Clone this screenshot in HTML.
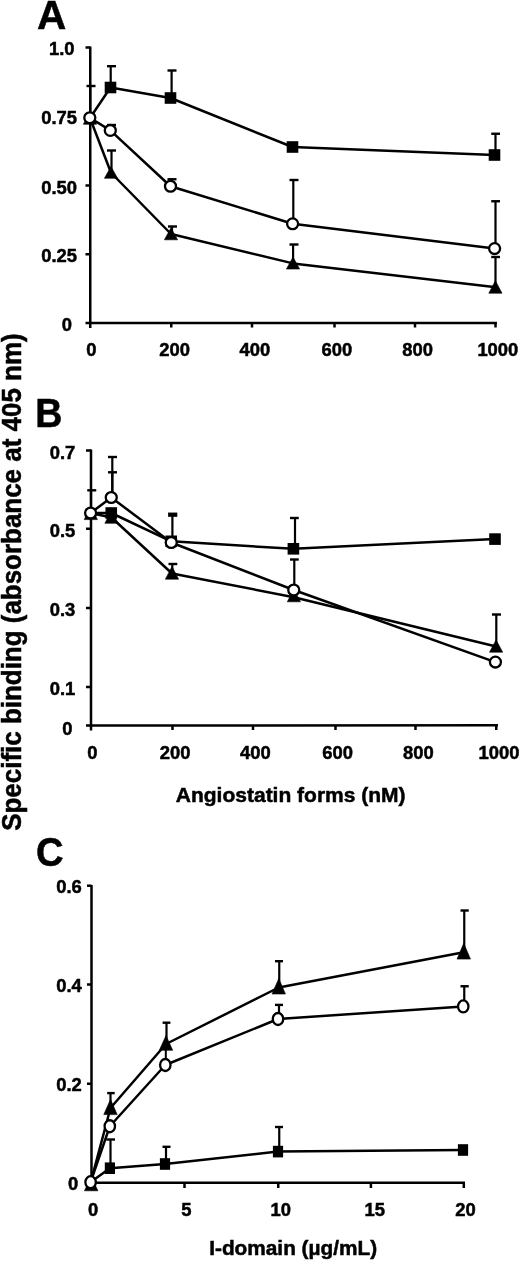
<!DOCTYPE html>
<html><head><meta charset="utf-8"><title>Figure</title>
<style>
html,body{margin:0;padding:0;background:#fff;}
svg{display:block;}
text{font-family:"Liberation Sans",sans-serif;font-weight:bold;fill:#000;stroke:#000;stroke-width:0.5px;}
</style></head>
<body>
<svg width="520" height="1261" viewBox="0 0 520 1261">
<rect width="520" height="1261" fill="#fff"/>
<line x1="90.25" y1="46.5" x2="90.25" y2="328" stroke="#000" stroke-width="2.5" stroke-linecap="butt"/>
<line x1="85.5" y1="323" x2="497" y2="323" stroke="#000" stroke-width="2.5" stroke-linecap="butt"/>
<line x1="85.5" y1="47.5" x2="90.25" y2="47.5" stroke="#000" stroke-width="2.5" stroke-linecap="butt"/>
<line x1="85.5" y1="116.5" x2="90.25" y2="116.5" stroke="#000" stroke-width="2.5" stroke-linecap="butt"/>
<line x1="85.5" y1="185.5" x2="90.25" y2="185.5" stroke="#000" stroke-width="2.5" stroke-linecap="butt"/>
<line x1="85.5" y1="254.25" x2="90.25" y2="254.25" stroke="#000" stroke-width="2.5" stroke-linecap="butt"/>
<line x1="171.25" y1="323" x2="171.25" y2="327.5" stroke="#000" stroke-width="2.5" stroke-linecap="butt"/>
<line x1="252" y1="323" x2="252" y2="327.5" stroke="#000" stroke-width="2.5" stroke-linecap="butt"/>
<line x1="334.5" y1="323" x2="334.5" y2="327.5" stroke="#000" stroke-width="2.5" stroke-linecap="butt"/>
<line x1="415" y1="323" x2="415" y2="327.5" stroke="#000" stroke-width="2.5" stroke-linecap="butt"/>
<line x1="495.5" y1="323" x2="495.5" y2="327.5" stroke="#000" stroke-width="2.5" stroke-linecap="butt"/>
<polyline points="90,118 110.5,87.5 170.5,98 292.5,147 494.5,155" fill="none" stroke="#000" stroke-width="2.5" stroke-linejoin="round"/>
<polyline points="89.8,117.7 110.3,130.4 170.5,186.25 292.6,223.8 494.6,248.6" fill="none" stroke="#000" stroke-width="2.5" stroke-linejoin="round"/>
<polyline points="90,118 111,172.75 171,234 293,263.4 496,287.25" fill="none" stroke="#000" stroke-width="2.5" stroke-linejoin="round"/>
<line x1="110.7" y1="87" x2="110.7" y2="66.2" stroke="#000" stroke-width="2.2" stroke-linecap="butt"/>
<line x1="107" y1="66.2" x2="116" y2="66.2" stroke="#000" stroke-width="2.4" stroke-linecap="butt"/>
<line x1="171.6" y1="98" x2="171.6" y2="70.5" stroke="#000" stroke-width="2.2" stroke-linecap="butt"/>
<line x1="167.5" y1="70.5" x2="176.5" y2="70.5" stroke="#000" stroke-width="2.4" stroke-linecap="butt"/>
<line x1="495.5" y1="155" x2="495.5" y2="133.75" stroke="#000" stroke-width="2.2" stroke-linecap="butt"/>
<line x1="491.25" y1="133.75" x2="500" y2="133.75" stroke="#000" stroke-width="2.4" stroke-linecap="butt"/>
<line x1="90.25" y1="118" x2="90.25" y2="86" stroke="#000" stroke-width="2.2" stroke-linecap="butt"/>
<line x1="86.5" y1="86" x2="95.5" y2="86" stroke="#000" stroke-width="2.4" stroke-linecap="butt"/>
<line x1="111" y1="130" x2="111" y2="125" stroke="#000" stroke-width="2.2" stroke-linecap="butt"/>
<line x1="107" y1="125" x2="116" y2="125" stroke="#000" stroke-width="2.4" stroke-linecap="butt"/>
<line x1="172" y1="186" x2="172" y2="179.25" stroke="#000" stroke-width="2.2" stroke-linecap="butt"/>
<line x1="167.5" y1="179.25" x2="176.5" y2="179.25" stroke="#000" stroke-width="2.4" stroke-linecap="butt"/>
<line x1="293.3" y1="223" x2="293.3" y2="180" stroke="#000" stroke-width="2.2" stroke-linecap="butt"/>
<line x1="289.5" y1="180" x2="298.5" y2="180" stroke="#000" stroke-width="2.4" stroke-linecap="butt"/>
<line x1="495.5" y1="248" x2="495.5" y2="201.25" stroke="#000" stroke-width="2.2" stroke-linecap="butt"/>
<line x1="491.25" y1="201.25" x2="500" y2="201.25" stroke="#000" stroke-width="2.4" stroke-linecap="butt"/>
<line x1="111.5" y1="172" x2="111.5" y2="150.5" stroke="#000" stroke-width="2.2" stroke-linecap="butt"/>
<line x1="107" y1="150.5" x2="116" y2="150.5" stroke="#000" stroke-width="2.4" stroke-linecap="butt"/>
<line x1="172" y1="234" x2="172" y2="226.5" stroke="#000" stroke-width="2.2" stroke-linecap="butt"/>
<line x1="168" y1="226.5" x2="177" y2="226.5" stroke="#000" stroke-width="2.4" stroke-linecap="butt"/>
<line x1="293.1" y1="263" x2="293.1" y2="244.5" stroke="#000" stroke-width="2.2" stroke-linecap="butt"/>
<line x1="289.5" y1="244.5" x2="298.5" y2="244.5" stroke="#000" stroke-width="2.4" stroke-linecap="butt"/>
<line x1="495.5" y1="287" x2="495.5" y2="257" stroke="#000" stroke-width="2.2" stroke-linecap="butt"/>
<line x1="491.25" y1="257" x2="500" y2="257" stroke="#000" stroke-width="2.4" stroke-linecap="butt"/>
<rect x="104.7" y="81.7" width="11.6" height="11.6" fill="#000"/>
<rect x="164.7" y="92.2" width="11.6" height="11.6" fill="#000"/>
<rect x="286.7" y="141.2" width="11.6" height="11.6" fill="#000"/>
<rect x="488.7" y="149.2" width="11.6" height="11.6" fill="#000"/>
<polygon points="90,111.1 83.4,124.3 96.6,124.3" fill="#000" stroke="#000" stroke-width="0.6" stroke-linejoin="round"/>
<polygon points="111,166.6 104.4,178.3 117.6,178.3" fill="#000" stroke="#000" stroke-width="0.6" stroke-linejoin="round"/>
<polygon points="171,227.85 164.4,239.8 177.6,239.8" fill="#000" stroke="#000" stroke-width="0.6" stroke-linejoin="round"/>
<polygon points="293,257.1 286.4,269.05 299.6,269.05" fill="#000" stroke="#000" stroke-width="0.6" stroke-linejoin="round"/>
<polygon points="495.4,280.70000000000005 488.79999999999995,293.2 502.0,293.2" fill="#000" stroke="#000" stroke-width="0.6" stroke-linejoin="round"/>
<ellipse cx="89.8" cy="117.7" rx="5.5" ry="5.4" fill="#fff" stroke="#000" stroke-width="2.3"/>
<ellipse cx="110.3" cy="130.4" rx="5.5" ry="5.4" fill="#fff" stroke="#000" stroke-width="2.3"/>
<ellipse cx="170.5" cy="186.25" rx="5.5" ry="5.4" fill="#fff" stroke="#000" stroke-width="2.3"/>
<ellipse cx="292.6" cy="223.8" rx="5.5" ry="5.4" fill="#fff" stroke="#000" stroke-width="2.3"/>
<ellipse cx="494.6" cy="248.6" rx="5.5" ry="5.4" fill="#fff" stroke="#000" stroke-width="2.3"/>
<text x="37" y="29" font-size="40.5" text-anchor="start" >A</text>
<text x="49" y="55" font-size="18.4" text-anchor="start" >1.0</text>
<text x="41.2" y="123.6" font-size="18.4" text-anchor="start" >0.75</text>
<text x="41.2" y="193.7" font-size="18.4" text-anchor="start" >0.50</text>
<text x="41.2" y="262" font-size="18.4" text-anchor="start" >0.25</text>
<text x="61.8" y="331.2" font-size="18.4" text-anchor="start" >0</text>
<text x="86.3" y="355.5" font-size="18.4" text-anchor="start" >0</text>
<text x="159.3" y="355.5" font-size="18.4" text-anchor="start" >200</text>
<text x="239.6" y="355.5" font-size="18.4" text-anchor="start" >400</text>
<text x="321.5" y="355.5" font-size="18.4" text-anchor="start" >600</text>
<text x="402.3" y="355.5" font-size="18.4" text-anchor="start" >800</text>
<text x="477.4" y="355.5" font-size="18.4" text-anchor="start" >1000</text>
<line x1="91" y1="449.5" x2="91" y2="730.5" stroke="#000" stroke-width="2.5" stroke-linecap="butt"/>
<line x1="86" y1="725.5" x2="498" y2="725.2" stroke="#000" stroke-width="2.5" stroke-linecap="butt"/>
<line x1="86" y1="450.5" x2="91" y2="450.5" stroke="#000" stroke-width="2.5" stroke-linecap="butt"/>
<line x1="86" y1="528.75" x2="91" y2="528.75" stroke="#000" stroke-width="2.5" stroke-linecap="butt"/>
<line x1="86" y1="608" x2="91" y2="608" stroke="#000" stroke-width="2.5" stroke-linecap="butt"/>
<line x1="86" y1="687" x2="91" y2="687" stroke="#000" stroke-width="2.5" stroke-linecap="butt"/>
<line x1="172.5" y1="725.3" x2="172.5" y2="730" stroke="#000" stroke-width="2.5" stroke-linecap="butt"/>
<line x1="253" y1="725.3" x2="253" y2="730" stroke="#000" stroke-width="2.5" stroke-linecap="butt"/>
<line x1="335.5" y1="725.3" x2="335.5" y2="730" stroke="#000" stroke-width="2.5" stroke-linecap="butt"/>
<line x1="415.5" y1="725.3" x2="415.5" y2="730" stroke="#000" stroke-width="2.5" stroke-linecap="butt"/>
<line x1="496.25" y1="725.3" x2="496.25" y2="730" stroke="#000" stroke-width="2.5" stroke-linecap="butt"/>
<polyline points="90.6,513 111.25,513 171.25,541.3 293.4,548.8 495,539.1" fill="none" stroke="#000" stroke-width="2.5" stroke-linejoin="round"/>
<polyline points="90.6,513 111.25,497.5 171.25,542.5 293.75,590 495.4,662.1" fill="none" stroke="#000" stroke-width="2.5" stroke-linejoin="round"/>
<polyline points="90.6,513 111.5,517.5 172,573.5 293.8,597.2 496.1,646.5" fill="none" stroke="#000" stroke-width="2.5" stroke-linejoin="round"/>
<line x1="91" y1="513" x2="91" y2="490.3" stroke="#000" stroke-width="2.2" stroke-linecap="butt"/>
<line x1="87.25" y1="490.3" x2="96.25" y2="490.3" stroke="#000" stroke-width="2.4" stroke-linecap="butt"/>
<line x1="112.3" y1="497" x2="112.3" y2="457" stroke="#000" stroke-width="2.2" stroke-linecap="butt"/>
<line x1="108" y1="457" x2="117" y2="457" stroke="#000" stroke-width="2.4" stroke-linecap="butt"/>
<line x1="112.3" y1="497" x2="112.3" y2="472.3" stroke="#000" stroke-width="2.2" stroke-linecap="butt"/>
<line x1="108" y1="472.3" x2="117" y2="472.3" stroke="#000" stroke-width="2.4" stroke-linecap="butt"/>
<line x1="172.4" y1="542" x2="172.4" y2="514.7" stroke="#000" stroke-width="2.2" stroke-linecap="butt"/>
<line x1="168.1" y1="514.7" x2="177.3" y2="514.7" stroke="#000" stroke-width="4.3" stroke-linecap="butt"/>
<line x1="172.3" y1="573" x2="172.3" y2="564" stroke="#000" stroke-width="2.2" stroke-linecap="butt"/>
<line x1="168.5" y1="564" x2="177.3" y2="564" stroke="#000" stroke-width="2.4" stroke-linecap="butt"/>
<line x1="295" y1="548" x2="295" y2="518" stroke="#000" stroke-width="2.2" stroke-linecap="butt"/>
<line x1="290" y1="518" x2="298.75" y2="518" stroke="#000" stroke-width="2.4" stroke-linecap="butt"/>
<line x1="294.3" y1="589" x2="294.3" y2="559.5" stroke="#000" stroke-width="2.2" stroke-linecap="butt"/>
<line x1="290" y1="559.5" x2="298.75" y2="559.5" stroke="#000" stroke-width="2.4" stroke-linecap="butt"/>
<line x1="496.3" y1="646" x2="496.3" y2="614.5" stroke="#000" stroke-width="2.2" stroke-linecap="butt"/>
<line x1="492" y1="614.5" x2="501" y2="614.5" stroke="#000" stroke-width="2.4" stroke-linecap="butt"/>
<rect x="105.45" y="507.2" width="11.6" height="11.6" fill="#000"/>
<rect x="165.45" y="535.5" width="11.6" height="11.6" fill="#000"/>
<rect x="287.59999999999997" y="543.0" width="11.6" height="11.6" fill="#000"/>
<rect x="489.2" y="533.3000000000001" width="11.6" height="11.6" fill="#000"/>
<polygon points="90.8,506.6 84.2,519.5999999999999 97.39999999999999,519.5999999999999" fill="#000" stroke="#000" stroke-width="0.6" stroke-linejoin="round"/>
<polygon points="111.5,510.6 104.9,523.3 118.1,523.3" fill="#000" stroke="#000" stroke-width="0.6" stroke-linejoin="round"/>
<polygon points="172,566.4 165.4,579.1999999999999 178.6,579.1999999999999" fill="#000" stroke="#000" stroke-width="0.6" stroke-linejoin="round"/>
<polygon points="293.9,589.4 287.29999999999995,601.8 300.5,601.8" fill="#000" stroke="#000" stroke-width="0.6" stroke-linejoin="round"/>
<polygon points="496.1,639.9 489.5,652.1999999999999 502.70000000000005,652.1999999999999" fill="#000" stroke="#000" stroke-width="0.6" stroke-linejoin="round"/>
<ellipse cx="90.6" cy="513" rx="5.5" ry="5.4" fill="#fff" stroke="#000" stroke-width="2.3"/>
<ellipse cx="111.25" cy="497.5" rx="5.5" ry="5.4" fill="#fff" stroke="#000" stroke-width="2.3"/>
<ellipse cx="171.25" cy="542.5" rx="5.5" ry="5.4" fill="#fff" stroke="#000" stroke-width="2.3"/>
<ellipse cx="293.75" cy="590" rx="5.5" ry="5.4" fill="#fff" stroke="#000" stroke-width="2.3"/>
<ellipse cx="495.4" cy="662.1" rx="5.5" ry="5.4" fill="#fff" stroke="#000" stroke-width="2.3"/>
<text x="35.3" y="427" font-size="40.5" text-anchor="start" textLength="27.2" lengthAdjust="spacingAndGlyphs">B</text>
<text x="49.7" y="458.6" font-size="18.4" text-anchor="start" >0.7</text>
<text x="49.7" y="537" font-size="18.4" text-anchor="start" >0.5</text>
<text x="49.7" y="616.2" font-size="18.4" text-anchor="start" >0.3</text>
<text x="49.7" y="695.4" font-size="18.4" text-anchor="start" >0.1</text>
<text x="62.3" y="735" font-size="18.4" text-anchor="start" >0</text>
<text x="87.3" y="758.8" font-size="18.4" text-anchor="start" >0</text>
<text x="159.8" y="758.8" font-size="18.4" text-anchor="start" >200</text>
<text x="240.1" y="758.8" font-size="18.4" text-anchor="start" >400</text>
<text x="322.3" y="758.8" font-size="18.4" text-anchor="start" >600</text>
<text x="403" y="758.8" font-size="18.4" text-anchor="start" >800</text>
<text x="478.5" y="758.8" font-size="18.4" text-anchor="start" >1000</text>
<text x="175.8" y="802" font-size="21" text-anchor="start" >Angiostatin forms (nM)</text>
<line x1="91.5" y1="885" x2="91.5" y2="1188" stroke="#000" stroke-width="2.5" stroke-linecap="butt"/>
<line x1="87" y1="1182.7" x2="465" y2="1182.7" stroke="#000" stroke-width="2.5" stroke-linecap="butt"/>
<line x1="87" y1="885.7" x2="91.5" y2="885.7" stroke="#000" stroke-width="2.5" stroke-linecap="butt"/>
<line x1="87" y1="984.5" x2="91.5" y2="984.5" stroke="#000" stroke-width="2.5" stroke-linecap="butt"/>
<line x1="87" y1="1083.75" x2="91.5" y2="1083.75" stroke="#000" stroke-width="2.5" stroke-linecap="butt"/>
<line x1="184.5" y1="1182.7" x2="184.5" y2="1188" stroke="#000" stroke-width="2.5" stroke-linecap="butt"/>
<line x1="278.25" y1="1182.7" x2="278.25" y2="1188" stroke="#000" stroke-width="2.5" stroke-linecap="butt"/>
<line x1="370.9" y1="1182.7" x2="370.9" y2="1188" stroke="#000" stroke-width="2.5" stroke-linecap="butt"/>
<line x1="463.8" y1="1182.7" x2="463.8" y2="1188" stroke="#000" stroke-width="2.5" stroke-linecap="butt"/>
<polyline points="90.75,1182 109.9,1168.2 165,1164 278,1151.6 463,1150" fill="none" stroke="#000" stroke-width="2.5" stroke-linejoin="round"/>
<polyline points="90.6,1182.2 109.8,1126.25 165.3,1065 278,1019 463.25,1006.4" fill="none" stroke="#000" stroke-width="2.5" stroke-linejoin="round"/>
<polyline points="90.75,1182 110.5,1108 166,1044 278.75,987.5 463.75,952.3" fill="none" stroke="#000" stroke-width="2.5" stroke-linejoin="round"/>
<line x1="110.5" y1="1168" x2="110.5" y2="1139.5" stroke="#000" stroke-width="2.2" stroke-linecap="butt"/>
<line x1="106.25" y1="1139.5" x2="115" y2="1139.5" stroke="#000" stroke-width="2.4" stroke-linecap="butt"/>
<line x1="166" y1="1163" x2="166" y2="1146.8" stroke="#000" stroke-width="2.2" stroke-linecap="butt"/>
<line x1="162.5" y1="1146.8" x2="170.5" y2="1146.8" stroke="#000" stroke-width="2.4" stroke-linecap="butt"/>
<line x1="279.25" y1="1152" x2="279.25" y2="1127" stroke="#000" stroke-width="2.2" stroke-linecap="butt"/>
<line x1="275" y1="1127" x2="283" y2="1127" stroke="#000" stroke-width="2.4" stroke-linecap="butt"/>
<line x1="110.5" y1="1108" x2="110.5" y2="1093.1" stroke="#000" stroke-width="2.2" stroke-linecap="butt"/>
<line x1="107.2" y1="1093.1" x2="114.7" y2="1093.1" stroke="#000" stroke-width="2.4" stroke-linecap="butt"/>
<line x1="166.5" y1="1044" x2="166.5" y2="1022.7" stroke="#000" stroke-width="2.2" stroke-linecap="butt"/>
<line x1="162.6" y1="1022.7" x2="170.4" y2="1022.7" stroke="#000" stroke-width="2.4" stroke-linecap="butt"/>
<line x1="165.8" y1="1049" x2="165.8" y2="1060" stroke="#000" stroke-width="2.0" stroke-linecap="butt"/>
<line x1="279.25" y1="988" x2="279.25" y2="961.2" stroke="#000" stroke-width="2.2" stroke-linecap="butt"/>
<line x1="275" y1="961.2" x2="283" y2="961.2" stroke="#000" stroke-width="2.4" stroke-linecap="butt"/>
<line x1="464.25" y1="952" x2="464.25" y2="910.5" stroke="#000" stroke-width="2.2" stroke-linecap="butt"/>
<line x1="460.5" y1="910.5" x2="468.75" y2="910.5" stroke="#000" stroke-width="2.4" stroke-linecap="butt"/>
<line x1="279" y1="1018" x2="279" y2="1004.9" stroke="#000" stroke-width="2.2" stroke-linecap="butt"/>
<line x1="275" y1="1004.9" x2="283" y2="1004.9" stroke="#000" stroke-width="2.4" stroke-linecap="butt"/>
<line x1="464.25" y1="1006" x2="464.25" y2="986.25" stroke="#000" stroke-width="2.2" stroke-linecap="butt"/>
<line x1="460.5" y1="986.25" x2="468.75" y2="986.25" stroke="#000" stroke-width="2.4" stroke-linecap="butt"/>
<rect x="104.80000000000001" y="1162.4" width="10.2" height="11.6" fill="#000"/>
<rect x="159.9" y="1158.2" width="10.2" height="11.6" fill="#000"/>
<rect x="272.9" y="1145.8" width="10.2" height="11.6" fill="#000"/>
<rect x="457.9" y="1144.2" width="10.2" height="11.6" fill="#000"/>
<polygon points="91.2,1177 84.45,1190.8 97.95,1190.8" fill="#000" stroke="#000" stroke-width="0.6" stroke-linejoin="round"/>
<polygon points="110.5,1099.3 103.8,1114.6 117.2,1114.6" fill="#000" stroke="#000" stroke-width="0.6" stroke-linejoin="round"/>
<polygon points="166,1035.5 159.3,1050.3 172.7,1050.3" fill="#000" stroke="#000" stroke-width="0.6" stroke-linejoin="round"/>
<polygon points="278.75,978.5 272.05,994 285.45,994" fill="#000" stroke="#000" stroke-width="0.6" stroke-linejoin="round"/>
<polygon points="463.75,943.3 457.05,959.1 470.45,959.1" fill="#000" stroke="#000" stroke-width="0.6" stroke-linejoin="round"/>
<ellipse cx="90.6" cy="1182.2" rx="5.2" ry="6.0" fill="#fff" stroke="#000" stroke-width="2.3"/>
<ellipse cx="109.8" cy="1126.25" rx="5.2" ry="6.0" fill="#fff" stroke="#000" stroke-width="2.3"/>
<ellipse cx="165.3" cy="1065" rx="5.2" ry="6.0" fill="#fff" stroke="#000" stroke-width="2.3"/>
<ellipse cx="278" cy="1019" rx="5.2" ry="6.0" fill="#fff" stroke="#000" stroke-width="2.3"/>
<ellipse cx="463.25" cy="1006.4" rx="5.2" ry="6.0" fill="#fff" stroke="#000" stroke-width="2.3"/>
<text x="35.9" y="865.8" font-size="40.5" text-anchor="start" textLength="27.6" lengthAdjust="spacingAndGlyphs">C</text>
<text x="56.2" y="893" font-size="18.4" text-anchor="start" >0.6</text>
<text x="56.2" y="992" font-size="18.4" text-anchor="start" >0.4</text>
<text x="56.2" y="1091.2" font-size="18.4" text-anchor="start" >0.2</text>
<text x="68" y="1190" font-size="18.4" text-anchor="start" >0</text>
<text x="88" y="1216.4" font-size="18.4" text-anchor="start" >0</text>
<text x="181.3" y="1216.4" font-size="18.4" text-anchor="start" >5</text>
<text x="270.6" y="1216.4" font-size="18.4" text-anchor="start" >10</text>
<text x="364.5" y="1216.4" font-size="18.4" text-anchor="start" >15</text>
<text x="455.3" y="1216.4" font-size="18.4" text-anchor="start" >20</text>
<text x="209.2" y="1254.5" font-size="20.8" text-anchor="start" >I-domain (µg/mL)</text>
<text transform="translate(21,830.8) rotate(-90) scale(1,1.04)" font-size="25.95">Specific binding (absorbance at 405 nm)</text>
</svg>
</body></html>
